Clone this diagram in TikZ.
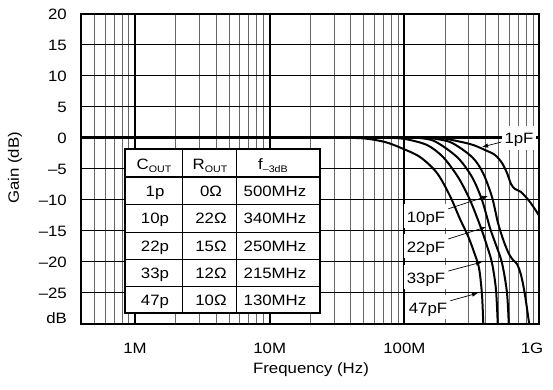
\documentclass[tikz,border=0pt]{standalone}
\usepackage{fontspec}
\setmainfont{Liberation Sans}[FakeStretch=1.12]
\usetikzlibrary{arrows.meta}
\newcommand{\lowtxt}[1]{\raisebox{-0.4ex}{\fontsize{9.5}{11}\selectfont #1}}

\begin{document}
\begin{tikzpicture}[x=1pt, y=-1pt,
  every node/.style={font=\fontsize{15}{18}\selectfont, inner sep=0pt},
  minor/.style={black!60, line width=0.8pt},
  major/.style={black, line width=2pt},
  hline/.style={black, line width=0.8pt},
  curve/.style={black, line width=2pt, line join=round},
  rule/.style={black, line width=0.9pt},
  lbl/.style={fill=white, anchor=base, inner xsep=3pt, inner ysep=4pt, text height=14pt, text depth=2pt},
  pointer/.style={black, line width=0.7pt, -{Latex[length=6pt,width=4.5pt]}}]

\useasboundingbox (0,0) rectangle (553,389);

% grid
\foreach \dec in {-1,0,1,2}
  \foreach \k in {2,...,9} {
    \pgfmathsetmacro\gx{135+134.7*(\dec+log10(\k))}
    \ifdim\gx pt>82pt \draw[minor] (\gx,13.5) -- (\gx,323.5); \fi
  }
\foreach \db in {15,10,...,-25}
  \draw[hline] (81,{137.5-6.2*\db}) -- (539,{137.5-6.2*\db});
\foreach \gx in {135,269.7,404.4}
  \draw[major] (\gx,13.5) -- (\gx,323.5);
\draw[major, line width=2.5pt] (81,137.5) -- (539,137.5);
\draw[major] (81,13.5) rectangle (539,323.5);

% axes
\foreach \db/\txt [count=\i] in {20/20,15/15,10/10,5/5,0/0,-5/–5,-10/–10,-15/–15,-20/–20,-25/–25}
  \node[anchor=base east] (ylab\i) at (67,{143-6.2*\db}) {\txt};
\node[anchor=base east] (ylab11) at (67,323.5) {dB};
\foreach \gx/\txt [count=\i] in {135/1M,269.7/10M,404.4/100M,532/1G}
  \node[anchor=base] (xlab\i) at (\gx,353) {\txt};
\node[anchor=base] (xtitle) at (311,373) {Frequency (Hz)};
\node[rotate=90] (ytitle) at (15,168) {Gain (dB)};

% responses
\begin{scope}
  \clip (81,13.5) rectangle (539,323.5);
  \draw[curve] (81,137.5) -- plot[smooth] coordinates {(340,137.5) (365,138.5) (385,142) (400,147.5) (420,157) (437,173) (450,196) (460,219) (468,236) (474,252) (479,268) (482,295) (483.5,330)};
  \draw[curve] (81,137.5) -- plot[smooth] coordinates {(385,137.5) (405,139) (427,145) (443,157) (458,177) (470,200) (481,228) (487,246) (492,263) (496,290) (498,330)};
  \draw[curve] (81,137.5) -- plot[smooth] coordinates {(410,137.5) (433,140.5) (457,157) (472,177) (482,200) (490,228) (496,245) (502,263) (507,293) (509,330)};
  \draw[curve] (81,137.5) -- plot[smooth] coordinates {(425,137.5) (450,142) (472,157) (483,173) (492,197) (498,223) (504,242) (509,254) (513,260) (517,264) (521,275) (525,295) (530,330)};
  \draw[curve] (81,137.5) -- plot[smooth] coordinates {(440,137.5) (470,144) (485,150) (495,155) (502,163) (507,173) (511,184) (515,189) (521,192) (530,202) (542,220)};
\end{scope}

% table
\draw[fill=white, line width=2pt] (125,149) rectangle (320,313);
\draw[rule] (182,149) -- (182,313) (236,149) -- (236,313);
\foreach \ry in {204,232,259,286}
  \draw[rule] (125,\ry) -- (320,\ry);
\draw[line width=2.5pt] (125,177) -- (320,177);
\node[anchor=base] (hcap) at (154,169.5) {C\lowtxt{OUT}};
\node[anchor=base] (hres) at (210,169.5) {R\lowtxt{OUT}};
\node[anchor=base] (hfc) at (273,169.5) {f\lowtxt{–3dB}};
\foreach \ry/\cv/\rv/\fv [count=\i] in {196/1p/0Ω/500MHz, 223.5/10p/22Ω/340MHz, 251/22p/15Ω/250MHz, 278/33p/12Ω/215MHz, 305/47p/10Ω/130MHz} {
  \node[anchor=base] (cap\i) at (155,\ry) {\cv};
  \node[anchor=base] (res\i) at (211,\ry) {\rv};
  \node[anchor=base] (fc\i) at (275,\ry) {\fv};
}

% curve labels
\node[lbl] (pf1) at (519,143.5) {1pF};
\node[lbl] (pf10) at (426,222) {10pF};
\node[lbl] (pf22) at (426,252) {22pF};
\node[lbl] (pf33) at (426,283) {33pF};
\node[lbl] (pf47) at (428,313) {47pF};
\coordinate (tip1) at (482,147);
\coordinate (tip10) at (488,196);
\coordinate (tip22) at (486,227);
\coordinate (tip33) at (482,262);
\coordinate (tip47) at (478,293);
\foreach \n in {1,10,22,33,47}
  \draw[pointer] (pf\n) -- (tip\n);

\end{tikzpicture}
\end{document}
